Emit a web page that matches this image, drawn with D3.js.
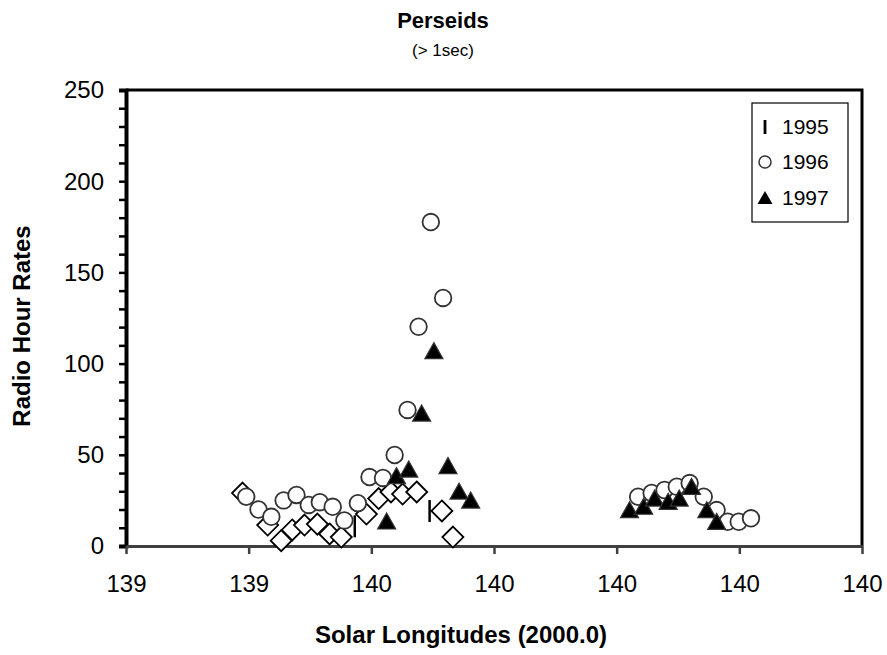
<!DOCTYPE html>
<html>
<head>
<meta charset="utf-8">
<script src="https://cdn.jsdelivr.net/npm/d3@7"></script>
<style>
  body { margin: 0; background: #fff; }
  text { font-family: "Liberation Sans", Arial, sans-serif; }
</style>
</head>
<body>
<svg id="chart" width="887" height="655"></svg>
<script>
var W = 887, H = 655;
var margin = { top: 90, right: 25, bottom: 109, left: 126 };

// x tick positions (labels are rounded to whole degrees as in the original)
var xTicks = [139.2, 139.4, 139.6, 139.8, 140.0, 140.2, 140.4];
var yTicks = [0, 50, 100, 150, 200, 250];

// unlabelled series (diamonds)
var diamondX = [139.390, 139.431, 139.453, 139.471, 139.491, 139.512, 139.532, 139.551, 139.592, 139.612, 139.632, 139.651, 139.674, 139.715, 139.733];
var diamondY = [29, 11.5, 2.9, 8.8, 11.5, 12, 6.6, 4.9, 17.5, 26, 29.6, 28.5, 29.6, 19.2, 4.9];

// 1995
var y1995X = [139.573, 139.695];
var y1995Y = [10.8, 19.2];

// 1996
var y1996X = [139.396, 139.416, 139.437, 139.457, 139.478, 139.498, 139.516, 139.537, 139.556, 139.578, 139.597, 139.619, 139.638, 139.659, 139.677, 139.697, 139.717,
              140.035, 140.057, 140.078, 140.098, 140.119, 140.142, 140.163, 140.181, 140.199, 140.219];
var y1996Y = [27, 20, 16, 25, 28, 22.5, 24, 21.5, 14, 23.5, 37.8, 37.3, 49.9, 74.6, 120.2, 177.6, 136,
              27, 29.1, 30.7, 32.5, 34.5, 27, 19.7, 13.3, 13.3, 15.2];

// 1997
var y1997X = [139.625, 139.641, 139.661, 139.682, 139.702, 139.725, 139.743, 139.762,
              140.021, 140.044, 140.062, 140.084, 140.102, 140.122, 140.147, 140.163];
var y1997Y = [12.6, 37.5, 41.1, 71.8, 106, 43, 29, 24.1,
              18.8, 20.7, 25.2, 23.4, 25.2, 31.6, 18.8, 12.4];

var svg = d3.select('#chart');
var iw = W - margin.left - margin.right,
    ih = H - margin.top - margin.bottom;

var x = d3.scaleLinear().domain([139.2, 140.4]).range([0, iw]);
var y = d3.scaleLinear().domain([0, 250]).range([ih, 0]);

var g = svg.append('g')
    .attr('transform', 'translate(' + margin.left + ',' + margin.top + ')');

// frame top + right
g.append('path')
    .attr('d', 'M0,0H' + iw + 'V' + ih)
    .attr('fill', 'none')
    .attr('stroke', '#000')
    .attr('stroke-width', 3);

// y axis with minor ticks
var yAxis = g.append('g')
    .call(d3.axisLeft(y).tickValues(d3.range(0, 251, 10)).tickSize(7).tickFormat(''));
yAxis.select('.domain').attr('stroke', '#000').attr('stroke-width', 4);
yAxis.selectAll('.tick line').attr('stroke', '#000').attr('stroke-width', 2.5);

g.selectAll('.ylab')
    .data(yTicks)
  .enter().append('text')
    .attr('class', 'ylab')
    .attr('x', -22)
    .attr('y', function (d) { return y(d); })
    .attr('dy', '0.35em')
    .attr('text-anchor', 'end')
    .attr('font-size', 24)
    .text(function (d) { return d; });

// x axis
var xAxis = g.append('g')
    .attr('transform', 'translate(0,' + ih + ')')
    .call(d3.axisBottom(x).tickValues(xTicks).tickSize(8).tickSizeOuter(0)
        .tickFormat(function (d) { return Math.round(d); }));
xAxis.select('.domain').attr('stroke', '#404040').attr('stroke-width', 3);
xAxis.selectAll('.tick line').attr('stroke', '#404040').attr('stroke-width', 2.5);
xAxis.selectAll('.tick text')
    .attr('font-size', 24)
    .attr('fill', '#000')
    .attr('y', 29)
    .attr('font-family', '"Liberation Sans", Arial, sans-serif');

// series
var diamonds = d3.zip(diamondX, diamondY);
g.selectAll('.dia')
    .data(diamonds)
  .enter().append('path')
    .attr('class', 'dia')
    .attr('transform', function (d) { return 'translate(' + x(d[0]) + ',' + y(d[1]) + ')'; })
    .attr('d', 'M0,-10.5L10.5,0L0,10.5L-10.5,0Z')
    .attr('fill', '#fff')
    .attr('stroke', '#000')
    .attr('stroke-width', 1.8);

g.selectAll('.bar95')
    .data(d3.zip(y1995X, y1995Y))
  .enter().append('line')
    .attr('class', 'bar95')
    .attr('x1', function (d) { return x(d[0]); })
    .attr('x2', function (d) { return x(d[0]); })
    .attr('y1', function (d) { return y(d[1]) - 11; })
    .attr('y2', function (d) { return y(d[1]) + 11; })
    .attr('stroke', '#000')
    .attr('stroke-width', 2.5);

g.selectAll('.c96')
    .data(d3.zip(y1996X, y1996Y))
  .enter().append('circle')
    .attr('class', 'c96')
    .attr('cx', function (d) { return x(d[0]); })
    .attr('cy', function (d) { return y(d[1]); })
    .attr('r', 8.3)
    .attr('fill', '#fff')
    .attr('stroke', '#333')
    .attr('stroke-width', 1.8);

var tri = 'M0,-10L9,6L-9,6Z';
g.selectAll('.t97')
    .data(d3.zip(y1997X, y1997Y))
  .enter().append('path')
    .attr('class', 't97')
    .attr('transform', function (d) { return 'translate(' + x(d[0]) + ',' + y(d[1]) + ')'; })
    .attr('d', tri)
    .attr('fill', '#000')
    .attr('stroke', '#333')
    .attr('stroke-width', 1.2);

// legend
var lg = svg.append('g').attr('transform', 'translate(752,103)');
lg.append('rect')
    .attr('width', 96).attr('height', 119)
    .attr('fill', '#fff').attr('stroke', '#000').attr('stroke-width', 1.2);
var rows = ['1995', '1996', '1997'];
var rowY = [24, 59, 95];
lg.selectAll('.ltxt')
    .data(rows)
  .enter().append('text')
    .attr('x', 30)
    .attr('y', function (d, i) { return rowY[i]; })
    .attr('dy', '0.35em')
    .attr('font-size', 21)
    .text(function (d) { return d; });
lg.append('line')
    .attr('x1', 13).attr('x2', 13).attr('y1', rowY[0] - 7).attr('y2', rowY[0] + 7)
    .attr('stroke', '#000').attr('stroke-width', 2.8);
lg.append('circle')
    .attr('cx', 13).attr('cy', rowY[1]).attr('r', 6)
    .attr('fill', '#fff').attr('stroke', '#333').attr('stroke-width', 1.5);
lg.append('path')
    .attr('transform', 'translate(13,' + (rowY[2] + 1) + ')')
    .attr('d', 'M0,-8L7.5,5L-7.5,5Z')
    .attr('fill', '#000');

// titles
svg.append('text')
    .attr('x', 443).attr('y', 28)
    .attr('text-anchor', 'middle')
    .attr('font-size', 22).attr('font-weight', 'bold')
    .text('Perseids');
svg.append('text')
    .attr('x', 443).attr('y', 56)
    .attr('text-anchor', 'middle')
    .attr('font-size', 17)
    .text('(> 1sec)');
svg.append('text')
    .attr('x', 461).attr('y', 643)
    .attr('text-anchor', 'middle')
    .attr('font-size', 24).attr('font-weight', 'bold')
    .text('Solar Longitudes (2000.0)');
svg.append('text')
    .attr('transform', 'translate(30,' + (margin.top + ih / 2 + 8) + ') rotate(-90)')
    .attr('text-anchor', 'middle')
    .attr('font-size', 24).attr('font-weight', 'bold')
    .text('Radio Hour Rates');
</script>
</body>
</html>
